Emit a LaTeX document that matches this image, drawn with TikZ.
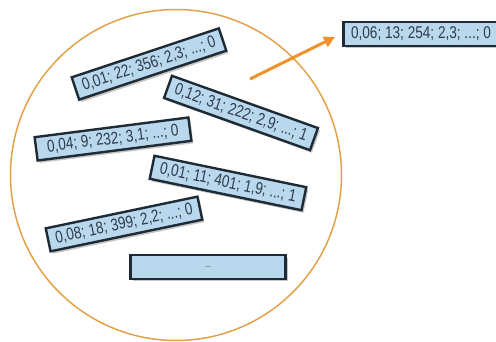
\documentclass[tikz,border=0pt]{standalone}
\usepackage{fontspec}
\setmainfont{Liberation Sans}[FakeStretch=0.8]
\usetikzlibrary{shadows,arrows.meta}
\definecolor{boxfill}{HTML}{B9D8EE}
\definecolor{boxline}{HTML}{1E2A34}
\definecolor{boxtext}{HTML}{2E3C4A}
\definecolor{ringcol}{HTML}{E3A14A}
\definecolor{arrowcol}{HTML}{F0922B}
\begin{document}
\begin{tikzpicture}[x=1pt,y=-1pt,
  recbox/.style={draw=boxline, line width=2.4pt, fill=boxfill,
    minimum width=155pt, minimum height=23.5pt, inner sep=0pt,
    font=\fontsize{17}{17}\selectfont, text=boxtext,
    drop shadow={opacity=0.45, shadow xshift=2pt, shadow yshift=-2.5pt}},
  ring/.style={circle, draw=ringcol, line width=1.5pt, minimum size=331pt, inner sep=0pt},
  outarrow/.style={draw=arrowcol, line width=3pt, -{Triangle[length=11pt,width=11pt]}}]
\useasboundingbox (0,0) rectangle (496,342);
\node[ring] (pool) at (176,175) {};
\node[recbox, rotate=18.4] (r1) at (149,64) {0,01; 22; 356; 2,3; ...; 0};
\node[recbox, rotate=-19.7] (r2) at (241,113) {0,12; 31; 222; 2,9; ...; 1};
\node[recbox, rotate=7.3] (r3) at (113,139) {0,04; 9; 232; 3,1; ...; 0};
\node[recbox, rotate=-11.7] (r4) at (228,183) {0,01; 11; 401; 1,9; ...; 1};
\node[recbox, rotate=11.8] (r5) at (124,224) {0,08; 18; 399; 2,2; ...; 0};
\node[recbox] (r6) at (208,267) {\fontsize{9}{9}\selectfont ...};
\node[recbox] (out) at (421,34) {0,06; 13; 254; 2,3; ...; 0};
\coordinate (astart) at (250,79);
\coordinate (aend) at (335,37);
\draw[outarrow] (astart) -- (aend);
\end{tikzpicture}
\end{document}
